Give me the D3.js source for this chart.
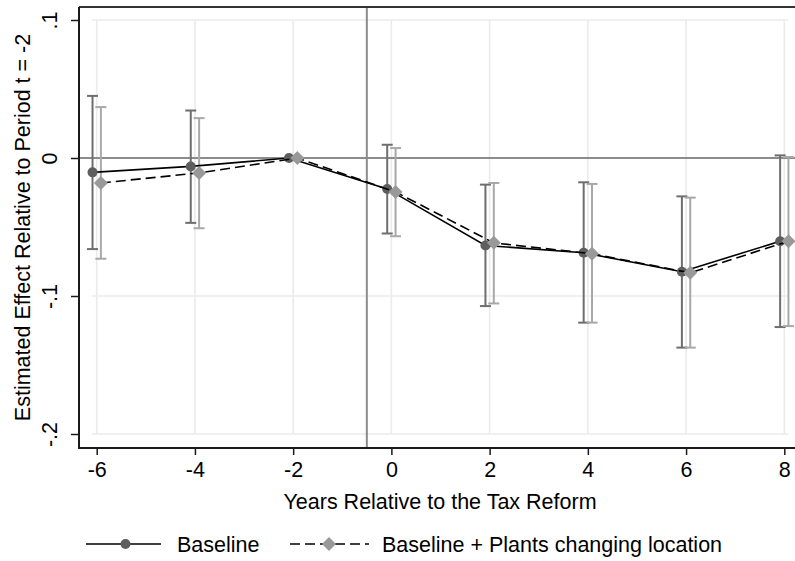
<!DOCTYPE html>
<html><head><meta charset="utf-8">
<script src="https://cdn.jsdelivr.net/npm/d3@7"></script>
<style>body{margin:0;background:#fff;} svg{display:block;font-family:"Liberation Sans",Arial,sans-serif;}</style>
</head><body>
<svg id="c" width="795" height="561"></svg>
<script>
const years = [-6, -4, -2, 0, 2, 4, 6, 8];
const baseEst = [-0.0104, -0.0061, 0, -0.0224, -0.0634, -0.0687, -0.0824, -0.0603];
const baseLo  = [-0.0660, -0.0470, 0, -0.0547, -0.1073, -0.1193, -0.1374, -0.1225];
const baseHi  = [0.0450, 0.0344, 0, 0.0096, -0.0193, -0.0176, -0.0278, 0.0019];
const plantEst = [-0.0181, -0.0108, 0, -0.0246, -0.0615, -0.0694, -0.0832, -0.0603];
const plantLo  = [-0.0730, -0.0509, 0, -0.0567, -0.1054, -0.1193, -0.1374, -0.1218];
const plantHi  = [0.0369, 0.0289, 0, 0.0072, -0.0181, -0.0188, -0.0287, 0.0007];
const xTicks = [-6, -4, -2, 0, 2, 4, 6, 8];
const xTickLabels = ["-6", "-4", "-2", "0", "2", "4", "6", "8"];
const yTicks = [0.1, 0, -0.1, -0.2];
const yTickLabels = [".1", "0", "-.1", "-.2"];
const seriesNames = ["Baseline", "Baseline + Plants changing location"];
const xTitle = "Years Relative to the Tax Reform";
const yTitle = "Estimated Effect Relative to Period t = -2";
const refX = -0.5, refY = 0;

const FS = 21.5;
const svg = d3.select("#c");
const x = d3.scaleLinear().domain([-6, 8]).range([96.7, 784.3]);
const y = d3.scaleLinear().domain([-0.2, 0.1]).range([434, 20]);
const frame = {l: 79, t: 7, r: 795, b: 448};
const off = 0.085;

// gridlines
const g = svg.append("g");
g.selectAll(".hg").data(yTicks.filter(d => d !== 0)).enter().append("line")
  .attr("x1", x(-6) - 5).attr("x2", x(8) + 4).attr("y1", d => y(d)).attr("y2", d => y(d))
  .attr("stroke", "#ebebeb").attr("stroke-width", 1.6);
g.selectAll(".vg").data(xTicks).enter().append("line")
  .attr("x1", d => x(d)).attr("x2", d => x(d)).attr("y1", y(0.1)).attr("y2", y(-0.2))
  .attr("stroke", "#ebebeb").attr("stroke-width", 1.6);

// reference lines
svg.append("line").attr("x1", frame.l).attr("x2", frame.r).attr("y1", y(refY)).attr("y2", y(refY))
  .attr("stroke", "#8c8c8c").attr("stroke-width", 2);
svg.append("line").attr("x1", x(refX)).attr("x2", x(refX)).attr("y1", frame.t).attr("y2", frame.b)
  .attr("stroke", "#8c8c8c").attr("stroke-width", 2);

// frame
svg.append("line").attr("x1", frame.l).attr("x2", frame.r).attr("y1", frame.t).attr("y2", frame.t)
  .attr("stroke", "#333").attr("stroke-width", 1.8);

// axes
const xAxis = d3.axisBottom(x).tickValues(xTicks).tickSize(7).tickFormat((d, i) => xTickLabels[i]);
const xa = svg.append("g").attr("transform", `translate(0,${frame.b})`).call(xAxis);
xa.select(".domain").remove();
xa.append("line").attr("x1", frame.l).attr("x2", frame.r).attr("stroke", "#1a1a1a").attr("stroke-width", 2);
xa.selectAll(".tick line").attr("stroke", "#1a1a1a").attr("stroke-width", 1.5);
xa.selectAll(".tick text").attr("font-size", FS).attr("fill", "#000")
  .attr("font-family", "'Liberation Sans', Arial, sans-serif")
  .attr("y", 29).attr("dy", null);

const yAxis = d3.axisLeft(y).tickValues(yTicks).tickSize(8).tickFormat((d, i) => yTickLabels[i]);
const ya = svg.append("g").attr("transform", `translate(${frame.l},0)`).call(yAxis);
ya.select(".domain").remove();
ya.append("line").attr("y1", frame.t).attr("y2", frame.b + 1).attr("stroke", "#1a1a1a").attr("stroke-width", 2);
ya.selectAll(".tick line").attr("stroke", "#1a1a1a").attr("stroke-width", 1.5);
ya.selectAll(".tick text").attr("font-size", FS).attr("fill", "#000")
  .attr("font-family", "'Liberation Sans', Arial, sans-serif")
  .attr("text-anchor", "middle").attr("dy", null)
  .attr("transform", "translate(-22,0) rotate(-90)").attr("x", 0).attr("y", 0);

// axis titles
svg.append("text").attr("x", (frame.l + frame.r) / 2 + 3).attr("y", 509).attr("text-anchor", "middle")
  .attr("font-size", FS).text(xTitle);
svg.append("text").attr("transform", `translate(30,${(frame.t + frame.b) / 2}) rotate(-90)`)
  .attr("text-anchor", "middle").attr("font-size", FS).text(yTitle);

// data
const base = years.map((v, i) => ({x: v - off, est: baseEst[i], lo: baseLo[i], hi: baseHi[i]}));
const plant = years.map((v, i) => ({x: v + off, est: plantEst[i], lo: plantLo[i], hi: plantHi[i]}));

function caps(data, color) {
  const gg = svg.append("g").attr("stroke", color).attr("stroke-width", 2).attr("fill", "none");
  data.filter(d => d.hi !== d.lo).forEach(d => {
    const cx = x(d.x);
    gg.append("line").attr("x1", cx).attr("x2", cx).attr("y1", y(d.hi)).attr("y2", y(d.lo));
    gg.append("line").attr("x1", cx - 5.5).attr("x2", cx + 5.5).attr("y1", y(d.hi)).attr("y2", y(d.hi));
    gg.append("line").attr("x1", cx - 5.5).attr("x2", cx + 5.5).attr("y1", y(d.lo)).attr("y2", y(d.lo));
  });
}
caps(base, "#6e6e6e");
caps(plant, "#a8a8a8");

const line = d3.line().x(d => x(d.x)).y(d => y(d.est));
svg.append("path").datum(base).attr("d", line).attr("fill", "none").attr("stroke", "#000").attr("stroke-width", 1.6);
svg.selectAll(".bc").data(base).enter().append("circle")
  .attr("cx", d => x(d.x)).attr("cy", d => y(d.est)).attr("r", 5).attr("fill", "#5e5e5e");
svg.append("path").datum(plant).attr("d", line).attr("fill", "none").attr("stroke", "#000")
  .attr("stroke-width", 1.6).attr("stroke-dasharray", "10,5");
svg.selectAll(".pd").data(plant).enter().append("path")
  .attr("transform", d => `translate(${x(d.x)},${y(d.est)})`)
  .attr("d", "M0,-7L7,0L0,7L-7,0Z").attr("fill", "#999999");

// legend
const ly = 544;
const lg = svg.append("g");
lg.append("line").attr("x1", 86).attr("x2", 161).attr("y1", ly).attr("y2", ly).attr("stroke", "#000").attr("stroke-width", 1.6);
lg.append("circle").attr("cx", 125.5).attr("cy", ly).attr("r", 5).attr("fill", "#5e5e5e");
lg.append("text").attr("x", 177).attr("y", ly + 8).attr("font-size", FS).text(seriesNames[0]);
lg.append("line").attr("x1", 290).attr("x2", 369).attr("y1", ly).attr("y2", ly).attr("stroke", "#000")
  .attr("stroke-width", 1.6).attr("stroke-dasharray", "10,5");
lg.append("path").attr("transform", `translate(329,${ly})`).attr("d", "M0,-7L7,0L0,7L-7,0Z").attr("fill", "#999999");
lg.append("text").attr("x", 382).attr("y", ly + 8).attr("font-size", FS).text(seriesNames[1]);
</script>
</body></html>
